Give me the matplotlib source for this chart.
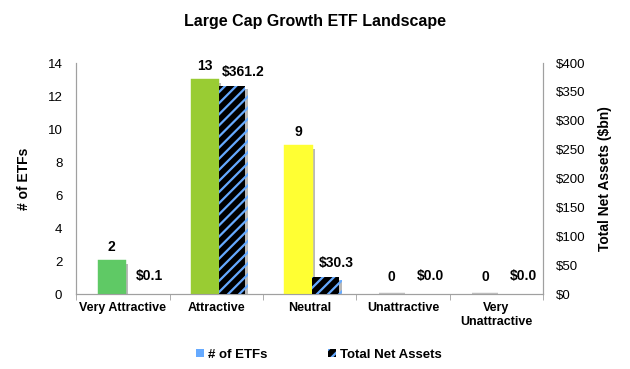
import matplotlib.pyplot as plt
import matplotlib.patheffects as pe
import numpy as np

plt.rcParams['font.family'] = ['Liberation Sans', 'DejaVu Sans']
plt.rcParams['hatch.linewidth'] = 1.6

# Data
categories = ['Very Attractive', 'Attractive', 'Neutral', 'Unattractive', 'Very\nUnattractive']
num_etfs = [2, 13, 9, 0, 0]
net_assets = [0.1, 361.2, 30.3, 0.0, 0.0]
bar_colors = ['#5FC965', '#99CC33', '#FFFF33', '#BFBFBF', '#BFBFBF']
left_ticks = [0, 2, 4, 6, 8, 10, 12, 14]
right_ticks = [0, 50, 100, 150, 200, 250, 300, 350, 400]

x = np.arange(len(categories))
w = 0.28
shadow = [pe.withSimplePatchShadow(offset=(2.2, -2.2), shadow_rgbFace='#808080', alpha=0.55), pe.Normal()]

fig = plt.figure(figsize=(6.3, 3.69), dpi=100)
ax = fig.add_axes([0.121, 0.203, 0.741, 0.626])
ax2 = ax.twinx()

b1 = ax.bar(x - 0.12, num_etfs, w, color=bar_colors, edgecolor=bar_colors, linewidth=1.6, zorder=3)
for b in b1:
    b.set_path_effects(shadow)
b2 = ax2.bar(x + 0.17, net_assets, w, color='black', edgecolor='#66AAFF', hatch='///', linewidth=0, zorder=3)
for b in b2:
    b.set_path_effects(shadow)

# Data labels
for xi, v in zip(x, num_etfs):
    ax.annotate(f'{v}', (xi - 0.12, v), xytext=(0, 5 if v else 7), textcoords='offset points',
                ha='center', va='bottom', fontsize=10, fontweight='bold')
for xi, v in zip(x, net_assets):
    ax2.annotate(f'${v:.1f}', (xi + 0.17, v), xytext=(8, 5 if v > 1 else 8), textcoords='offset points',
                 ha='center', va='bottom', fontsize=10, fontweight='bold')

ax.set_xlim(-0.5, len(categories) - 0.5)
ax.set_ylim(0, 14)
ax2.set_ylim(0, 400)
ax.set_yticks(left_ticks)
ax2.set_yticks(right_ticks)
ax2.set_yticklabels([f'${t}' for t in right_ticks])

ax.set_xticks(x)
ax.set_xticklabels(categories, fontsize=9, fontweight='bold')
ax.tick_params(axis='x', length=0, pad=6)
ax.set_xticks(np.arange(len(categories) + 1) - 0.5, minor=True)
ax.tick_params(axis='x', which='minor', length=4, color='#A0A0A0')
ax.tick_params(axis='y', length=0, labelsize=9.5, pad=10)
ax2.tick_params(axis='y', length=0, labelsize=9.5, pad=9)

for a in (ax, ax2):
    a.spines['top'].set_visible(False)
    for s in ('left', 'right', 'bottom'):
        a.spines[s].set_color('#A0A0A0')
        a.spines[s].set_linewidth(0.8)

ax.set_ylabel('# of ETFs', fontsize=10, fontweight='bold', labelpad=12)
ax2.set_ylabel('Total Net Assets ($bn)', fontsize=10, fontweight='bold', labelpad=9)
fig.suptitle('Large Cap Growth ETF Landscape', x=0.5, y=0.962, fontsize=11.5, fontweight='bold')

# Legend
h1 = plt.Rectangle((0, 0), 1, 1, facecolor='#66AAFF', edgecolor='none')
h2 = plt.Rectangle((0, 0), 1, 1, facecolor='black', edgecolor='#66AAFF', hatch='///', linewidth=0)
fig.legend([h1, h2], ['# of ETFs', 'Total Net Assets'], loc='lower center', bbox_to_anchor=(0.506, -0.01),
           ncol=2, frameon=False, prop={'weight': 'bold', 'size': 9.5},
           handlelength=0.6, handleheight=0.6, handletextpad=0.3, columnspacing=4.6)

fig.savefig('out.png', dpi=100)
